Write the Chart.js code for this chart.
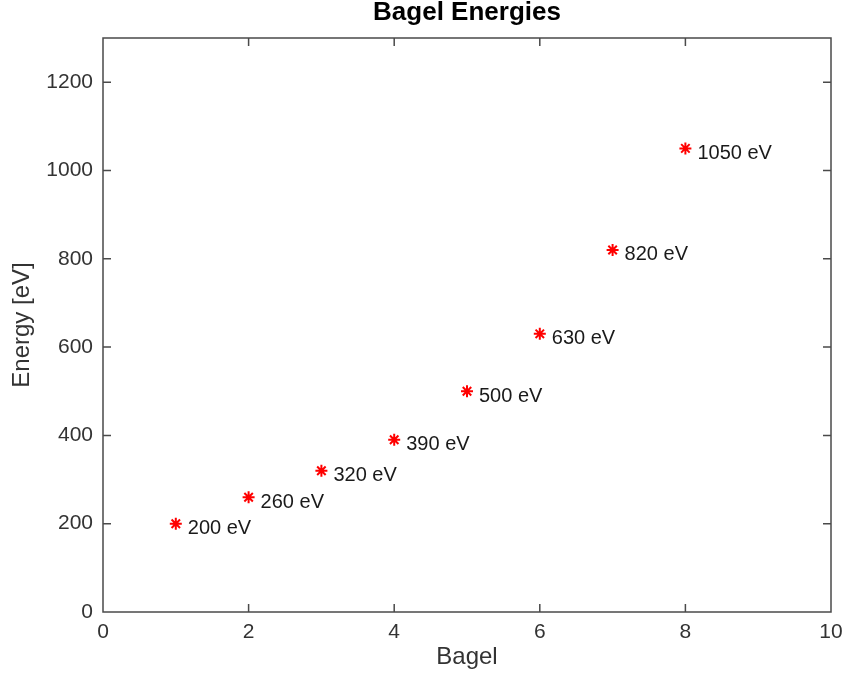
<!DOCTYPE html>
<html>
<head>
<meta charset="utf-8">
<script src="https://cdn.jsdelivr.net/npm/chart.js@4"></script>
<style>
  html, body { margin: 0; padding: 0; background: #fff; }
  #wrap { width: 845px; height: 675px; }
</style>
</head>
<body>
<div id="wrap"><canvas id="c" width="845" height="675"></canvas></div>
<script>
const bagels = [1, 2, 3, 4, 5, 6, 7, 8];
const energies = [200, 260, 320, 390, 500, 630, 820, 1050];
const pointLabels = ['200 eV', '260 eV', '320 eV', '390 eV', '500 eV', '630 eV', '820 eV', '1050 eV'];
const xTicks = [0, 2, 4, 6, 8, 10];
const yTicks = [0, 200, 400, 600, 800, 1000, 1200];

const FONT = "'Liberation Sans', Arial, Helvetica, sans-serif";

const boxPlugin = {
  id: 'boxPlugin',
  afterDatasetsDraw(chart) {
    const ctx = chart.ctx;
    const a = chart.chartArea;
    const xs = chart.scales.x, ys = chart.scales.y;
    const tl = 8;
    ctx.save();
    ctx.strokeStyle = '#4a4a4a';
    ctx.lineWidth = 1.5;
    ctx.strokeRect(a.left, a.top, a.right - a.left, a.bottom - a.top);
    ctx.beginPath();
    xs.ticks.forEach(t => {
      const px = xs.getPixelForValue(t.value);
      if (px <= a.left + 1 || px >= a.right - 1) return;
      ctx.moveTo(px, a.bottom); ctx.lineTo(px, a.bottom - tl);
      ctx.moveTo(px, a.top); ctx.lineTo(px, a.top + tl);
    });
    ys.ticks.forEach(t => {
      const py = ys.getPixelForValue(t.value);
      if (py <= a.top + 1 || py >= a.bottom - 1) return;
      ctx.moveTo(a.left, py); ctx.lineTo(a.left + tl, py);
      ctx.moveTo(a.right, py); ctx.lineTo(a.right - tl, py);
    });
    ctx.stroke();

    // point labels
    const meta = chart.getDatasetMeta(0);
    ctx.fillStyle = '#1a1a1a';
    ctx.font = '20px ' + FONT;
    ctx.textAlign = 'left';
    ctx.textBaseline = 'middle';
    meta.data.forEach((pt, i) => {
      ctx.fillText(pointLabels[i], pt.x + 12, pt.y + 5);
    });
    ctx.restore();
  }
};

new Chart(document.getElementById('c'), {
  type: 'scatter',
  data: {
    datasets: [{
      data: bagels.map((b, i) => ({ x: b, y: energies[i] })),
      pointStyle: 'star',
      pointRadius: 6,
      pointHoverRadius: 6,
      borderColor: '#ff0000',
      backgroundColor: '#ff0000',
      borderWidth: 2
    }]
  },
  options: {
    responsive: false,
    animation: false,
    events: [],
    layout: { padding: { left: 0, right: 14, top: 0, bottom: 0 } },
    plugins: {
      legend: { display: false },
      tooltip: { enabled: false },
      title: {
        display: true,
        fullSize: false,
        text: 'Bagel Energies',
        color: '#000',
        font: { family: FONT, size: 26, weight: 'bold', lineHeight: 1 },
        padding: { top: 0, bottom: 12 }
      }
    },
    scales: {
      x: {
        type: 'linear',
        min: 0, max: 10,
        afterBuildTicks: s => { s.ticks = xTicks.map(v => ({ value: v })); },
        afterFit: s => { s.height = 63; s.paddingLeft = 0; s.paddingRight = 0; },
        grid: { display: false, drawTicks: false },
        border: { display: false },
        ticks: { color: '#333', font: { family: FONT, size: 21 }, padding: 8, maxRotation: 0,
                 callback: v => String(v) },
        title: {
          display: true, text: 'Bagel', color: '#333',
          font: { family: FONT, size: 24 }, padding: { top: 0, bottom: 3 }
        }
      },
      y: {
        type: 'linear',
        min: 0, max: 1300,
        afterBuildTicks: s => { s.ticks = yTicks.map(v => ({ value: v })); },
        afterFit: s => { s.width = 103; s.paddingTop = 0; s.paddingBottom = 0; },
        grid: { display: false, drawTicks: false },
        border: { display: false },
        ticks: { color: '#333', font: { family: FONT, size: 21 }, padding: 10,
                 callback: v => String(v) },
        title: {
          display: true, text: 'Energy [eV]', color: '#333',
          font: { family: FONT, size: 24 }, padding: { top: 8, bottom: 0 }
        }
      }
    }
  },
  plugins: [boxPlugin]
});
</script>
</body>
</html>
